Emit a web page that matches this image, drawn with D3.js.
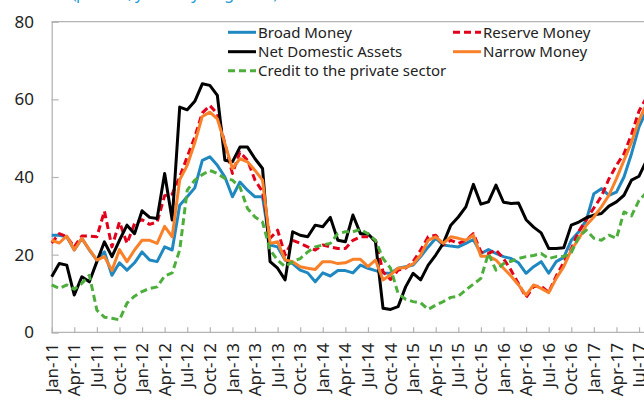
<!DOCTYPE html>
<html>
<head>
<meta charset="utf-8">
<script src="https://cdn.jsdelivr.net/npm/d3@7"></script>
<style>
  body { margin: 0; background: #fff; }
  svg { display: block; font-family: "Noto Sans", "Open Sans", sans-serif; }
</style>
</head>
<body>
<svg id="chart" width="644" height="400"></svg>
<script>
// monthly, Jan-11 .. Aug-17 (last point runs off the right edge)
const tickLabels = ['Jan-11', 'Apr-11', 'Jul-11', 'Oct-11', 'Jan-12', 'Apr-12', 'Jul-12', 'Oct-12',
  'Jan-13', 'Apr-13', 'Jul-13', 'Oct-13', 'Jan-14', 'Apr-14', 'Jul-14', 'Oct-14',
  'Jan-15', 'Apr-15', 'Jul-15', 'Oct-15', 'Jan-16', 'Apr-16', 'Jul-16', 'Oct-16',
  'Jan-17', 'Apr-17', 'Jul-17'];

const broadMoney = [25.0, 25.0, 24.6, 21.2, 24.2, 21.2, 18.6, 20.7, 14.7, 17.9, 16.0, 17.9, 20.7, 18.6, 18.2, 22.0,
  21.2, 32.7, 34.9, 37.2, 44.3, 45.2, 43.0, 40.0, 34.9, 38.7, 36.6, 34.9, 34.9, 22.5, 22.0, 18.6,
  17.7, 16.0, 15.3, 13.0, 15.3, 14.5, 15.9, 15.9, 15.3, 17.3, 16.5, 15.9, 15.3, 15.2, 16.5, 16.9,
  17.3, 19.5, 22.0, 24.2, 22.5, 22.2, 22.0, 22.9, 23.9, 20.3, 21.3, 20.3, 19.5, 19.0, 17.9, 15.2,
  16.9, 18.2, 15.2, 18.2, 19.3, 23.7, 25.9, 28.9, 35.7, 37.0, 35.3, 36.1, 40.0, 46.0, 52.9, 57.1];

const reserveMoney = [23.0, 25.4, 24.6, 22.0, 24.8, 24.8, 24.6, 31.2, 22.0, 28.4, 22.9, 28.0, 29.0, 27.8, 28.4, 35.2,
  35.6, 40.0, 45.2, 50.3, 56.5, 58.4, 56.3, 48.6, 40.9, 46.4, 44.3, 39.2, 36.2, 24.2, 26.3, 19.9,
  23.7, 22.9, 22.0, 21.2, 22.5, 22.0, 21.6, 21.6, 23.7, 24.6, 24.6, 23.7, 15.6, 13.6, 16.0, 16.5,
  18.2, 21.2, 24.6, 25.0, 22.5, 23.7, 22.9, 23.7, 25.4, 20.7, 20.3, 21.2, 19.0, 16.0, 12.5, 9.0,
  11.8, 11.9, 10.3, 14.5, 18.0, 21.5, 26.0, 29.0, 32.0, 35.0, 39.5, 43.0, 46.0, 51.0, 57.0, 60.5];

const netDomesticAssets = [14.3, 17.7, 17.3, 9.6, 14.3, 13.0, 18.2, 23.3, 19.5, 23.7, 27.6, 25.4, 31.3, 29.6, 29.3, 40.9,
  28.9, 58.0, 57.3, 59.5, 64.0, 63.6, 61.0, 44.3, 43.9, 47.7, 47.7, 44.7, 42.2, 18.2, 16.5, 13.5,
  25.9, 25.0, 24.6, 27.6, 27.2, 29.6, 23.7, 23.3, 30.2, 25.4, 25.4, 23.3, 6.2, 5.9, 6.6, 11.7,
  15.2, 13.5, 17.3, 19.9, 22.9, 27.6, 29.7, 32.3, 38.1, 33.0, 33.6, 37.9, 33.5, 33.2, 33.3, 29.0,
  27.1, 25.6, 21.6, 21.6, 21.8, 27.6, 28.4, 29.5, 30.2, 30.6, 32.5, 33.6, 35.3, 39.2, 40.2, 44.3];

const narrowMoney = [23.7, 23.0, 24.8, 21.2, 24.2, 21.3, 18.6, 19.5, 15.9, 21.3, 18.2, 21.2, 23.7, 23.7, 22.9, 27.3,
  24.6, 39.3, 43.0, 48.8, 55.6, 56.7, 55.0, 48.6, 42.2, 44.7, 43.9, 41.7, 39.2, 22.9, 23.3, 18.6,
  18.2, 16.9, 16.5, 16.2, 18.2, 18.2, 17.7, 17.9, 18.8, 18.8, 16.9, 18.6, 13.5, 14.8, 16.5, 16.7,
  17.6, 19.9, 23.7, 24.6, 22.9, 24.6, 24.2, 23.7, 25.0, 19.6, 19.6, 18.6, 16.5, 14.5, 12.2, 9.6,
  12.2, 11.3, 10.2, 13.9, 16.9, 21.2, 24.1, 27.6, 29.7, 32.3, 35.3, 39.6, 44.3, 49.0, 54.6, 58.9];

const privateCredit = [12.2, 11.3, 12.2, 11.1, 12.6, 14.7, 5.7, 3.9, 3.6, 3.2, 7.5, 9.3, 10.5, 11.3, 11.7, 14.5,
  15.3, 21.2, 36.6, 39.2, 40.6, 41.7, 40.9, 39.6, 39.2, 37.4, 31.9, 29.7, 28.4, 21.2, 18.6, 16.9,
  18.2, 19.0, 20.7, 22.0, 22.5, 22.9, 25.4, 25.9, 25.9, 26.5, 25.4, 23.7, 19.0, 16.5, 10.0, 8.5,
  7.9, 7.6, 5.9, 7.0, 7.9, 9.0, 9.3, 10.9, 12.4, 13.9, 20.3, 16.0, 17.7, 18.3, 19.0, 19.5,
  19.8, 20.3, 19.0, 19.5, 19.5, 20.5, 24.6, 26.3, 24.2, 23.7, 25.0, 24.2, 31.0, 30.0, 34.0, 36.0];

const yTicks = [0, 20, 40, 60, 80];

const series = [
  { name: 'Broad Money', values: broadMoney, color: '#1f88c0', dash: null },
  { name: 'Reserve Money', values: reserveMoney, color: '#e3001b', dash: '7,4' },
  { name: 'Net Domestic Assets', values: netDomesticAssets, color: '#000000', dash: null },
  { name: 'Narrow Money', values: narrowMoney, color: '#f9812a', dash: null },
  { name: 'Credit to the private sector', values: privateCredit, color: '#4dae3c', dash: '7,4' },
];

const svg = d3.select('#chart');
const left = 51.7;
const monthStep = 7.53;

const x = d3.scaleLinear()
  .domain([0, 78])
  .range([left, left + 78 * monthStep]);
const y = d3.scaleLinear()
  .domain([0, 80])
  .range([332.3, 21.7]);

// clipped-off title, only its descenders show at the top
svg.append('text')
  .attr('x', 72)
  .attr('y', -1.5)
  .attr('fill', '#1e9bd7')
  .attr('font-size', 16)
  .attr('textLength', 206)
  .text('(percent, year-on-year growth)');

// top border of the plot area
svg.append('line')
  .attr('x1', left).attr('x2', 644)
  .attr('y1', y(80)).attr('y2', y(80))
  .attr('stroke', '#b4b4b4')
  .attr('stroke-width', 1.2);

// y axis
const yAxis = svg.append('g')
  .attr('transform', `translate(${left},0)`)
  .call(d3.axisRight(y).tickValues(yTicks).tickSize(7).tickFormat(''));
yAxis.select('.domain').attr('stroke', '#b4b4b4').attr('stroke-width', 1.3);
yAxis.selectAll('.tick line').attr('stroke', '#b4b4b4').attr('stroke-width', 1.2);

svg.append('g')
  .selectAll('text')
  .data(yTicks)
  .join('text')
  .attr('x', 34)
  .attr('y', (d) => y(d))
  .attr('dy', '0.35em')
  .attr('text-anchor', 'end')
  .attr('font-size', 17)
  .attr('fill', '#222')
  .text((d) => d);

// x axis, tick every quarter
const quarterIdx = tickLabels.map((d, i) => i * 3);
const xAxis = svg.append('g')
  .attr('transform', `translate(0,${y(0)})`)
  .call(d3.axisTop(x).tickValues(quarterIdx).tickSize(5).tickFormat(''));
xAxis.select('.domain').remove();
xAxis.selectAll('.tick line').attr('stroke', '#b4b4b4').attr('stroke-width', 1.2);
svg.append('line')
  .attr('x1', left).attr('x2', 644)
  .attr('y1', y(0)).attr('y2', y(0))
  .attr('stroke', '#b4b4b4')
  .attr('stroke-width', 1.3);

svg.append('g')
  .selectAll('text')
  .data(tickLabels)
  .join('text')
  .attr('transform', (d, i) => `translate(${x(i * 3)},343) rotate(-90)`)
  .attr('dy', '0.36em')
  .attr('text-anchor', 'end')
  .attr('font-size', 17)
  .attr('fill', '#222')
  .text((d) => d);

// lines
const line = d3.line()
  .x((d, i) => x(i))
  .y((d) => y(d));

svg.append('g')
  .selectAll('path')
  .data(series)
  .join('path')
  .attr('d', (d) => line(d.values))
  .attr('fill', 'none')
  .attr('stroke', (d) => d.color)
  .attr('stroke-width', 3)
  .attr('stroke-dasharray', (d) => d.dash)
  .attr('stroke-linejoin', 'round');

// legend, two columns
const legendPos = [
  { x: 228, y: 32.3 }, { x: 453, y: 32.3 },
  { x: 228, y: 51.7 }, { x: 453, y: 51.7 },
  { x: 228, y: 70.7 },
];
const legend = svg.append('g')
  .selectAll('g')
  .data(series)
  .join('g')
  .attr('transform', (d, i) => `translate(${legendPos[i].x},${legendPos[i].y})`);
legend.append('line')
  .attr('x1', 0).attr('x2', 28)
  .attr('stroke', (d) => d.color)
  .attr('stroke-width', 3)
  .attr('stroke-dasharray', (d) => d.dash);
legend.append('text')
  .attr('x', 30)
  .attr('dy', '0.35em')
  .attr('font-size', 15)
  .attr('fill', '#222')
  .text((d) => d.name);
</script>
</body>
</html>
